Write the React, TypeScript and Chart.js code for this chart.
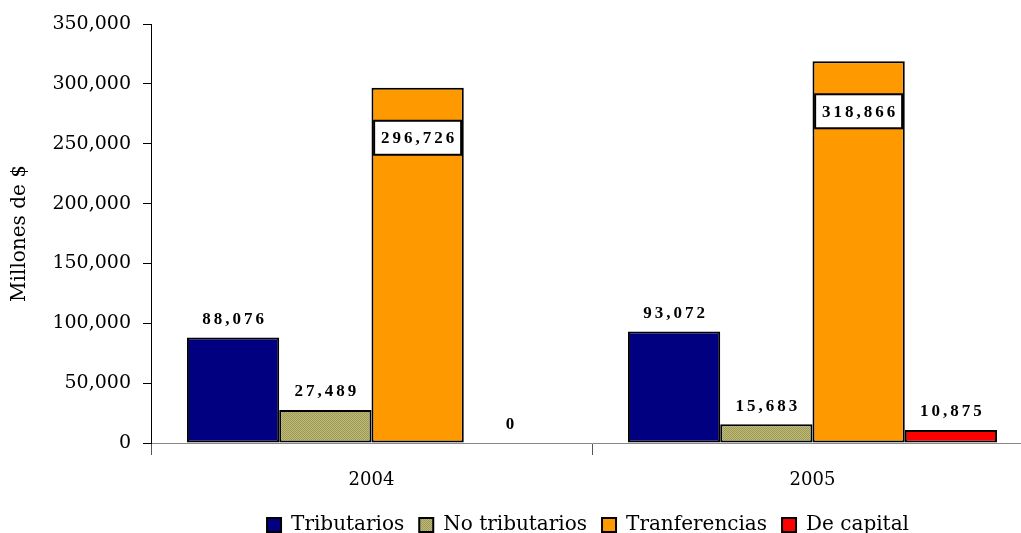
import React, { useEffect, useRef } from "react";
import { Chart, registerables } from "chart.js";
Chart.register(...registerables);

const years = ["2004", "2005"];
const tributarios = [88076, 93072];
const noTributarios = [27489, 15683];
const transferencias = [296726, 318866];
const deCapital = [0, 10875];
const seriesNames = ["Tributarios", "No tributarios", "Tranferencias", "De capital"];
const seriesColors = ["#000080", "pattern", "#FF9900", "#FF0000"];
const yMax = 350000;
const yStep = 50000;
const yTitle = "Millones de $";

const fmt = (v: number) => String(v).replace(/\B(?=(\d{3})+(?!\d))/g, ",");

function makePattern(): CanvasPattern | string {
  const c = document.createElement("canvas");
  c.width = 2;
  c.height = 2;
  const g = c.getContext("2d");
  if (!g) return "#B0AD68";
  g.fillStyle = "#BDBA7A";
  g.fillRect(0, 0, 2, 2);
  g.fillStyle = "#9D9A55";
  g.fillRect(0, 0, 1, 1);
  g.fillRect(1, 1, 1, 1);
  const p = g.createPattern(c, "repeat");
  return p || "#B0AD68";
}

const legendShiftPlugin = {
  id: "legendShift",
  afterLayout(chart: any) {
    const lg = chart.legend;
    if (!lg) return;
    const target = 588;
    const shift = target - (lg.left + lg.right) / 2;
    lg.left += shift;
    lg.right += shift;
  },
};

const labelPlugin = {
  id: "valueLabels",
  afterDatasetsDraw(chart: any) {
    const ctx = chart.ctx as CanvasRenderingContext2D;
    ctx.save();
    ctx.font = "bold 17px 'Liberation Serif'";
    (ctx as any).letterSpacing = "3px";
    ctx.textAlign = "center";
    ctx.textBaseline = "middle";
    chart.data.datasets.forEach((ds: any, di: number) => {
      const meta = chart.getDatasetMeta(di);
      meta.data.forEach((bar: any, i: number) => {
        const v = ds.data[i] as number;
        const text = fmt(v);
        const x = bar.x + 1.5;
        if (di === 2) {
          const cy = bar.y + 50;
          const w = 87;
          const h = 34;
          ctx.fillStyle = "#FFFFFF";
          ctx.fillRect(bar.x - w / 2, cy - h / 2, w, h);
          ctx.lineWidth = 2;
          ctx.strokeStyle = "#000";
          ctx.strokeRect(bar.x - w / 2, cy - h / 2, w, h);
          ctx.fillStyle = "#000";
          ctx.fillText(text, x, cy + 1);
        } else {
          ctx.fillStyle = "#000";
          ctx.fillText(text, x, bar.y - 18);
        }
      });
    });
    ctx.restore();
  },
};

export default function App() {
  const ref = useRef<HTMLCanvasElement>(null);
  useEffect(() => {
    if (!ref.current) return;
    const pattern = makePattern();
    const values = [tributarios, noTributarios, transferencias, deCapital];
    const chart = new Chart(ref.current, {
      type: "bar",
      data: {
        labels: years,
        datasets: seriesNames.map((name, k) => ({
          label: name,
          data: values[k],
          backgroundColor: seriesColors[k] === "pattern" ? (pattern as any) : seriesColors[k],
          borderColor: "#000",
          borderWidth: 2,
          borderSkipped: false,
          categoryPercentage: 0.837,
          barPercentage: 1,
        })),
      },
      options: {
        responsive: false,
        animation: false,
        devicePixelRatio: 1,
        layout: { padding: { top: 24, right: 12, left: 0, bottom: -12 } },
        plugins: {
          legend: {
            position: "bottom",
            labels: {
              font: { family: "'DejaVu Serif'", size: 20 },
              color: "#000",
              boxWidth: 14,
              boxHeight: 14,
              padding: 15,
            },
          },
          tooltip: { enabled: false },
        },
        scales: {
          x: {
            border: { display: true, color: "#888", width: 1 },
            grid: {
              display: true,
              drawOnChartArea: false,
              drawTicks: true,
              tickLength: 12,
              color: "#555",
              offset: true,
            },
            ticks: {
              font: { family: "'DejaVu Serif'", size: 18 },
              color: "#000",
              padding: 15,
            },
            afterFit: (s: any) => {
              s.height = 57;
            },
          },
          y: {
            min: 0,
            max: yMax,
            border: { display: true, color: "#000", width: 1 },
            grid: {
              display: true,
              drawOnChartArea: false,
              drawTicks: true,
              tickLength: 8,
              color: "#000",
            },
            ticks: {
              stepSize: yStep,
              font: { family: "'DejaVu Serif'", size: 19 },
              color: "#000",
              padding: 12,
              callback: (v: any) => fmt(Number(v)),
            },
            title: {
              display: true,
              text: yTitle,
              font: { family: "'DejaVu Serif'", size: 20 },
              color: "#000",
              padding: { top: 8, bottom: 0 },
            },
            afterFit: (s: any) => {
              s.width = 151;
            },
          },
        },
      },
      plugins: [labelPlugin, legendShiftPlugin],
    });
    return () => chart.destroy();
  }, []);
  return (
    <div
      style={{
        position: "fixed",
        left: 0,
        top: 0,
        width: 1021,
        height: 533,
        overflow: "hidden",
        background: "#fff",
      }}
    >
      <canvas ref={ref} width={1045} height={533} style={{ display: "block" }} />
    </div>
  );
}
